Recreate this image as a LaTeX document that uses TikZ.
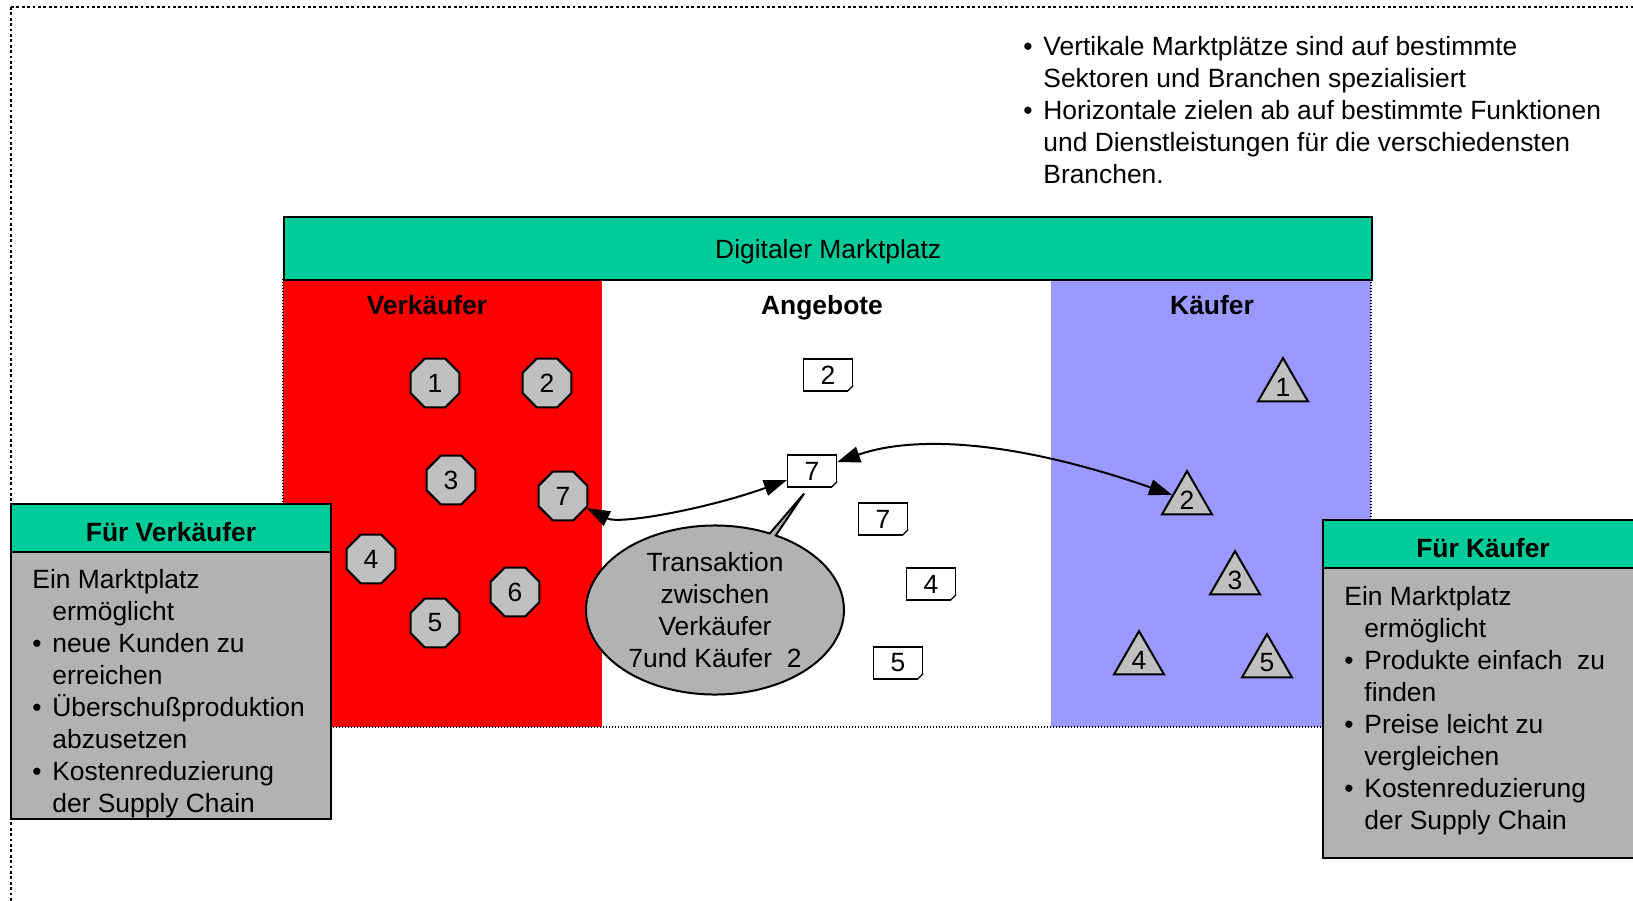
\documentclass[tikz,border=0pt]{standalone}
\usepackage{fontspec}
\setmainfont{Liberation Sans}
\usepackage{tikz}
\usetikzlibrary{shapes.geometric,shapes.callouts,arrows.meta,positioning}

\definecolor{mgreen}{HTML}{00CC99}
\definecolor{mblue}{HTML}{9999FF}
\definecolor{mgray}{HTML}{B2B2B2}
\definecolor{lgray}{HTML}{C0C0C0}

\newcommand{\itm}{\makebox[10pt][l]{\textbullet}}
\newcommand{\hng}{\hspace*{10pt}}

\begin{document}
\begin{tikzpicture}[
  x=0.5pt, y=-0.5pt,
  font=\fontsize{13.2pt}{16pt}\selectfont,
  sellnode/.style={regular polygon,regular polygon sides=8,draw,fill=lgray,line width=1pt,inner sep=0pt,minimum size=26.5pt},
  buynode/.style={regular polygon,regular polygon sides=3,draw,fill=lgray,line width=1pt,inner sep=0pt,minimum size=28.9pt},
  ]
  \tikzset{%
    offer/.style={
      draw, fill=white, line width=0.6pt,
      inner sep=0pt, minimum width=24.5pt, minimum height=16pt,
    },
    colhead/.style={
      inner sep=0pt, anchor=base,
      font=\fontsize{13.2pt}{16pt}\selectfont\bfseries,
    },
    headbox/.style={
      draw, fill=mgreen, line width=1.2pt, outer sep=0pt,
      inner sep=0pt, minimum width=160pt, minimum height=24pt,
      text height=13.6pt, text depth=0pt,
      font=\fontsize{13.2pt}{16pt}\selectfont\bfseries,
    },
    bodybox/.style={
      draw, fill=mgray, line width=1.2pt, outer sep=0pt,
      inner sep=0pt, minimum width=160pt,
    },
    trade/.style={
      line width=1pt, >={Triangle[length=11.5pt,width=8pt]}, <->,
    },
  }
  \useasboundingbox (0,0) rectangle (1633,900);
  \clip (0,0) rectangle (1633,900);
  %Frame
  \draw[line width=1.4pt, dash pattern=on 1.4pt off 1.3pt] (11,7) rectangle (1700,960);
  %Market
  \fill[red] (283,279) rectangle (602,727);
  \fill[mblue] (1051,279) rectangle (1371,727);
  \draw[line width=0.7pt, dash pattern=on 0.7pt off 0.8pt] (283,279) rectangle (1371,727);
  \node[draw, fill=mgreen, line width=1.2pt, inner sep=0pt, text depth=0pt, minimum width=544pt, minimum height=31.5pt, anchor=north west] (markt) at (283,216) {Digitaler Marktplatz};
  \node[colhead] (hv) at (427,314) {Verkäufer};
  \node[colhead] (ha) at (822,314) {Angebote};
  \node[colhead] (hk) at (1212,314) {Käufer};
  %Info
  \node[anchor=north west, inner sep=0pt, align=left] (info) at (1023,36)
    {\itm Vertikale Marktplätze sind auf bestimmte\\
     \hng Sektoren und Branchen spezialisiert\\
     \itm Horizontale zielen ab auf bestimmte Funktionen\\
     \hng und Dienstleistungen für die verschiedensten\\
     \hng Branchen.};
  %Nodes
  \node[sellnode] (v1) at (435,383) {1};
  \node[sellnode] (v2) at (547,383) {2};
  \node[sellnode] (v3) at (451,480) {3};
  \node[sellnode] (v7) at (563,496) {7};
  \node[sellnode] (v4) at (371,559) {4};
  \node[sellnode] (v6) at (515,592) {6};
  \node[sellnode] (v5) at (435,623) {5};
  \node[offer] (a2) at (828,375) {2};
  \node[offer] (a7) at (812,471) {7};
  \node[offer] (a7b) at (883,519) {7};
  \node[offer] (a4) at (931,584) {4};
  \node[offer] (a5) at (898,663) {5};
  \foreach \a in {a2,a7,a7b,a4,a5}{
    \fill[white] ([xshift=-3pt]\a.south east) -- ([shift={(1pt,-1pt)}]\a.south east) -- ([yshift=3pt]\a.south east) -- cycle;
    \draw[line width=0.6pt] ([xshift=-3pt]\a.south east) -- ([yshift=3pt]\a.south east);
  }
  \node[buynode] (k1) at (1283,387) {1};
  \node[buynode] (k2) at (1187,500) {2};
  \node[buynode] (k3) at (1235,580) {3};
  \node[buynode] (k4) at (1139,660) {4};
  \node[buynode] (k5) at (1267,663) {5};
  \node[ellipse callout, draw, fill=mgray, line width=1pt, inner sep=0pt,
    minimum width=129pt, minimum height=84.5pt, align=center,
    callout absolute pointer={([shift={(-4pt,-3pt)}]a7.south)},
    callout pointer arc=3] (trans) at (715,610)
    {Transaktion\\zwischen\\Verkäufer\\7und Käufer\ \ 2};
  %Lines
  \draw[trade] (v7) .. controls (620,525) and (710,508) .. (a7);
  \draw[trade] (a7) .. controls (900,440) and (990,432) .. (k2);
  %Boxes
  \node[headbox, anchor=north west] (fv) at (11,504) {Für Verkäufer};
  \node[bodybox, minimum height=133.5pt, below=0pt of fv] (fvbody) {};
  \node[anchor=north west, inner sep=0pt, align=left] (fvtext) at ([shift={(10.5pt,-8.5pt)}]fvbody.north west)
    {Ein Marktplatz\\
     \hng ermöglicht\\
     \itm neue Kunden zu\\
     \hng erreichen\\
     \itm Überschußproduktion\\
     \hng abzusetzen\\
     \itm Kostenreduzierung\\
     \hng der Supply Chain};
  \node[headbox, anchor=north west] (fk) at (1323,520) {Für Käufer};
  \node[bodybox, minimum height=145pt, below=0pt of fk] (fkbody) {};
  \node[anchor=north west, inner sep=0pt, align=left] (fktext) at ([shift={(10.5pt,-9pt)}]fkbody.north west)
    {Ein Marktplatz\\
     \hng ermöglicht\\
     \itm Produkte einfach\ \ zu\\
     \hng finden\\
     \itm Preise leicht zu\\
     \hng vergleichen\\
     \itm Kostenreduzierung\\
     \hng der Supply Chain};
\end{tikzpicture}
\end{document}
